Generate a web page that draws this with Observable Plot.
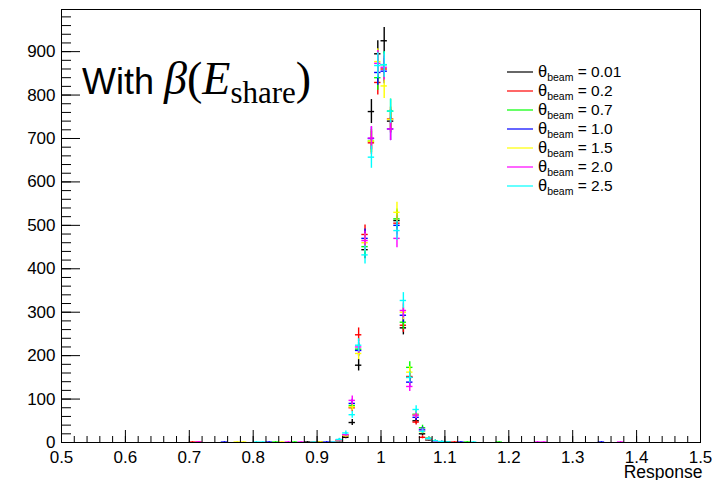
<!DOCTYPE html>
<html><head><meta charset="utf-8">
<script src="https://cdn.jsdelivr.net/npm/d3@7"></script>
<script src="https://cdn.jsdelivr.net/npm/@observablehq/plot@0.6"></script>
<style>body{margin:0;background:#fff}#chart{width:725px;height:480px}</style>
</head><body><div id="chart"></div>
<script>
// ---- data ----
const binCenters = [0.925,0.935,0.945,0.955,0.965,0.975,0.985,0.995,1.005,1.015,1.025,1.035,1.045,1.055,1.065,1.075,1.085,1.095];
const seriesNames  = ["0.01","0.2","0.7","1.0","1.5","2.0","2.5"];
const seriesColors = ["#000000","#ff0000","#00ff00","#0000ff","#ffff00","#ff00ff","#00ffff"];
const countsBeam001 = [1,4,12,46,178,444,762,895,925,740,511,264,150,50,20,6,3,1];
const countsBeam02  = [1,5,15,80,248,479,690,829,860,745,505,270,152,47,12,7,3,1];
const countsBeam07  = [1,5,16,85,215,451,694,840,870,763,515,277,173,65,34,10,4,2];
const countsBeam10  = [1,6,17,90,212,470,700,852,855,722,500,293,139,58,30,8,3,1];
const countsBeam15  = [1,5,16,82,205,460,694,877,821,744,530,300,162,63,25,8,3,1];
const countsBeam20  = [1,6,18,97,220,465,701,873,864,722,470,304,129,63,28,9,3,2];
const countsBeam25  = [1,7,22,64,224,432,657,868,870,763,488,327,150,76,26,9,4,2];
// isolated single-entry bins in the tails
const tailBeam001 = [0.885,0.905,1.105];
const tailBeam02  = [0.705,0.715,0.895,1.115];
const tailBeam07  = [0.835,0.865,1.135,1.185];
const tailBeam10  = [0.755,0.825,0.915,1.125,1.345];
const tailBeam15  = [0.775,0.785,0.845,0.905];
const tailBeam20  = [0.715,0.855,0.875,1.245,1.255,1.375];
const tailBeam25  = [0.805,0.815,0.895,1.105,1.145];
const xTicks = [0.5,0.6,0.7,0.8,0.9,1.0,1.1,1.2,1.3,1.4,1.5];
const xTickLabels = ["0.5","0.6","0.7","0.8","0.9","1","1.1","1.2","1.3","1.4","1.5"];
const yTicks = [0,100,200,300,400,500,600,700,800,900];
const yTickLabels = ["0","100","200","300","400","500","600","700","800","900"];
const xAxisTitle = "Response";
const binWidth = 0.01;

// ---- layout ----
const W = 725, H = 480;
const mL = 61, mR = 25, mT = 9, mB = 38;
const plotW = W - mL - mR, plotH = H - mT - mB;

const allCounts = [countsBeam001,countsBeam02,countsBeam07,countsBeam10,countsBeam15,countsBeam20,countsBeam25];
const allTails  = [tailBeam001,tailBeam02,tailBeam07,tailBeam10,tailBeam15,tailBeam20,tailBeam25];

const seriesRows = allCounts.map((counts, s) => {
  const rows = binCenters.map((x, i) => ({x, v: counts[i]}));
  allTails[s].forEach(x => rows.push({x, v: 1}));
  return rows;
});

const xMinor = d3.range(0.5, 1.5001, 0.02);
const yMinor = d3.range(0, 997, 20);

const marks = [];
seriesRows.forEach((rows, s) => {
  const c = seriesColors[s];
  marks.push(Plot.ruleX(rows, {x: "x", y1: d => Math.max(0, d.v - Math.sqrt(d.v)), y2: d => d.v + Math.sqrt(d.v), stroke: c, strokeWidth: 1.4, clip: true}));
  marks.push(Plot.ruleY(rows, {y: "v", x1: d => d.x - binWidth/2, x2: d => d.x + binWidth/2, stroke: c, strokeWidth: 1.4, clip: true}));
});

const chart = Plot.plot({
  width: W, height: H,
  marginLeft: mL, marginRight: mR, marginTop: mT, marginBottom: mB,
  style: {fontFamily: "'Liberation Sans', Arial, sans-serif", fontSize: "17px", color: "black", background: "white"},
  x: {domain: [0.5, 1.5]},
  y: {domain: [0, 997]},
  marks: [
    ...marks,
    Plot.tickX(xMinor, {x: d => d, insetTop: plotH - 6, stroke: "black"}),
    Plot.tickX(xTicks, {x: d => d, insetTop: plotH - 12, stroke: "black"}),
    Plot.tickY(yMinor, {y: d => d, insetRight: plotW - 10, stroke: "black"}),
    Plot.tickY(yTicks, {y: d => d, insetRight: plotW - 19, stroke: "black"}),
    Plot.axisX({ticks: xTicks, tickSize: 0, tickPadding: 8, tickFormat: (d) => xTickLabels[xTicks.indexOf(d)], label: null, fontSize: 17}),
    Plot.axisY({ticks: yTicks, tickSize: 0, tickPadding: 6, tickFormat: (d) => yTickLabels[yTicks.indexOf(d)], label: null, fontSize: 17}),
    Plot.text([xAxisTitle], {text: d => d, frameAnchor: "bottom-right", textAnchor: "end", lineAnchor: "bottom", dx: 2, dy: 35, fontSize: 17.5}),
    Plot.frame({stroke: "black", strokeWidth: 1})
  ]
});
document.getElementById("chart").appendChild(chart);

// ---- annotation and legend ----
const svg = d3.select(chart);
const sans = "'Liberation Sans', Arial, sans-serif";
const serif = "'Liberation Serif', 'Times New Roman', serif";
const ann = svg.append("text").attr("x", 82).attr("y", 94).attr("text-anchor", "start")
  .attr("font-family", sans).attr("font-size", 36).attr("fill", "black");
ann.append("tspan").text("With ");
ann.append("tspan").attr("font-family", serif).attr("font-style", "italic").attr("font-size", 46).text("β");
ann.append("tspan").attr("font-family", serif).attr("font-size", 46).text("(");
ann.append("tspan").attr("font-family", serif).attr("font-style", "italic").attr("font-size", 46).text("E");
ann.append("tspan").attr("font-family", serif).attr("font-size", 31).attr("dy", 9).text("share");
ann.append("tspan").attr("font-family", serif).attr("font-size", 46).attr("dy", -9).text(")");

const leg = svg.append("g").attr("text-anchor", "start");
seriesNames.forEach((name, i) => {
  const y = 72 + i * 19;
  leg.append("line").attr("x1", 507).attr("x2", 533).attr("y1", y).attr("y2", y)
    .attr("stroke", seriesColors[i]).attr("stroke-width", 1.2);
  const t = leg.append("text").attr("x", 538).attr("y", y + 5).attr("text-anchor", "start")
    .attr("font-family", sans).attr("font-size", 15.5).attr("fill", "black");
  t.append("tspan").attr("font-size", 16.5).text("θ");
  t.append("tspan").attr("font-size", 10.5).attr("dy", 4).text("beam");
  t.append("tspan").attr("dy", -4).text(" = " + name);
});
</script>
</body></html>
